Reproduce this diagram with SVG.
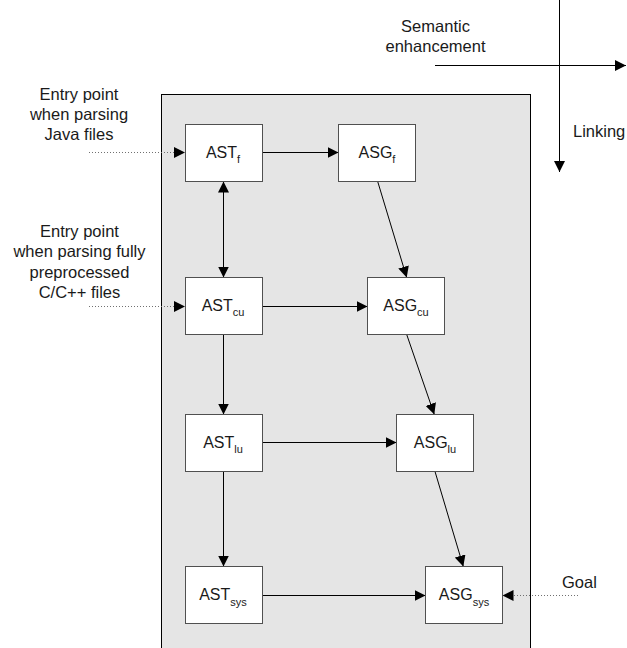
<svg xmlns="http://www.w3.org/2000/svg" width="627" height="648" viewBox="0 0 627 648">
<style>
  text { font-family: "Liberation Sans", Arial, sans-serif; fill: #1a1a1a; }
  .lbl { font-size: 16.5px; text-anchor: middle; }
  .nt { font-size: 16px; text-anchor: middle; }
  .sub { font-size: 11px; }
  .box { fill: #ffffff; stroke: #505050; stroke-width: 1; }
  .edge { fill: none; stroke: #000; stroke-width: 1; }
  .dot { fill: none; stroke: #707070; stroke-width: 1; stroke-dasharray: 1 2; }
</style>
<defs>
  <marker id="ah" markerUnits="userSpaceOnUse" markerWidth="11" markerHeight="11" refX="11" refY="5.5" orient="auto-start-reverse">
    <path d="M0,0 L11,5.5 L0,11 z" fill="#000"/>
  </marker>
</defs>
<rect id="container" x="161.5" y="94.5" width="369" height="600" fill="#e5e5e5" stroke="#000" stroke-width="1"/>
<g id="legend">
  <text class="lbl" x="435.5" y="32">Semantic</text>
  <text class="lbl" x="435.5" y="51.5">enhancement</text>
  <text x="573" y="137" font-size="16.5">Linking</text>
</g>
<g id="entry-labels">
  <text class="lbl" x="79" y="100">Entry point</text>
  <text class="lbl" x="79" y="120">when parsing</text>
  <text class="lbl" x="79" y="140">Java files</text>
  <text class="lbl" x="79.5" y="236.5">Entry point</text>
  <text class="lbl" x="79.5" y="257">when parsing fully</text>
  <text class="lbl" x="79.5" y="277.5">preprocessed</text>
  <text class="lbl" x="79.5" y="298">C/C++ files</text>
  <text x="562" y="588" font-size="16.5">Goal</text>
</g>
<g id="connectors">
  <path class="edge" d="M435,65.5 H626" stroke="#444" marker-end="url(#ah)"/>
  <path class="edge" d="M559.5,0 V172" marker-end="url(#ah)"/>
  <path class="dot" d="M89,152.5 H185" marker-end="url(#ah)"/>
  <path class="dot" d="M89,306.5 H185" marker-end="url(#ah)"/>
  <path class="dot" d="M578,595.5 H502.5" marker-end="url(#ah)"/>
  <path class="edge" d="M262.5,152.5 H338.5" marker-end="url(#ah)"/>
  <path class="edge" d="M223.5,181.5 V277.5" marker-start="url(#ah)" marker-end="url(#ah)"/>
  <path class="edge" d="M262.5,306.5 H367.5" marker-end="url(#ah)"/>
  <path class="edge" d="M223.5,334.5 V414.5" marker-end="url(#ah)"/>
  <path class="edge" d="M262.5,442.5 H396.5" marker-end="url(#ah)"/>
  <path class="edge" d="M223.5,471.5 V566.5" marker-end="url(#ah)"/>
  <path class="edge" d="M262.5,595.5 H425.5" marker-end="url(#ah)"/>
  <path class="edge" d="M377.7,181.5 L406.7,277.5" marker-end="url(#ah)"/>
  <path class="edge" d="M406.7,334.5 L434.3,414.5" marker-end="url(#ah)"/>
  <path class="edge" d="M435,471.5 L463.3,566.5" marker-end="url(#ah)"/>
</g>
<g id="AST_f">
  <rect class="box" x="185.5" y="124.5" width="77" height="57"/>
  <text class="nt" x="223" y="158">AST<tspan class="sub" dy="5">f</tspan></text>
</g>
<g id="ASG_f">
  <rect class="box" x="338.5" y="124.5" width="77" height="57"/>
  <text class="nt" x="377" y="158">ASG<tspan class="sub" dy="5">f</tspan></text>
</g>
<g id="AST_cu">
  <rect class="box" x="185.5" y="277.5" width="77" height="57"/>
  <text class="nt" x="223" y="311">AST<tspan class="sub" dy="5">cu</tspan></text>
</g>
<g id="ASG_cu">
  <rect class="box" x="367.5" y="277.5" width="77" height="57"/>
  <text class="nt" x="406" y="311">ASG<tspan class="sub" dy="5">cu</tspan></text>
</g>
<g id="AST_lu">
  <rect class="box" x="185.5" y="414.5" width="77" height="57"/>
  <text class="nt" x="223" y="448">AST<tspan class="sub" dy="5">lu</tspan></text>
</g>
<g id="ASG_lu">
  <rect class="box" x="396.5" y="414.5" width="77" height="57"/>
  <text class="nt" x="435" y="448">ASG<tspan class="sub" dy="5">lu</tspan></text>
</g>
<g id="AST_sys">
  <rect class="box" x="185.5" y="566.5" width="77" height="57"/>
  <text class="nt" x="223" y="600">AST<tspan class="sub" dy="6">sys</tspan></text>
</g>
<g id="ASG_sys">
  <rect class="box" x="425.5" y="566.5" width="77" height="57"/>
  <text class="nt" x="464" y="600">ASG<tspan class="sub" dy="6">sys</tspan></text>
</g>
</svg>
